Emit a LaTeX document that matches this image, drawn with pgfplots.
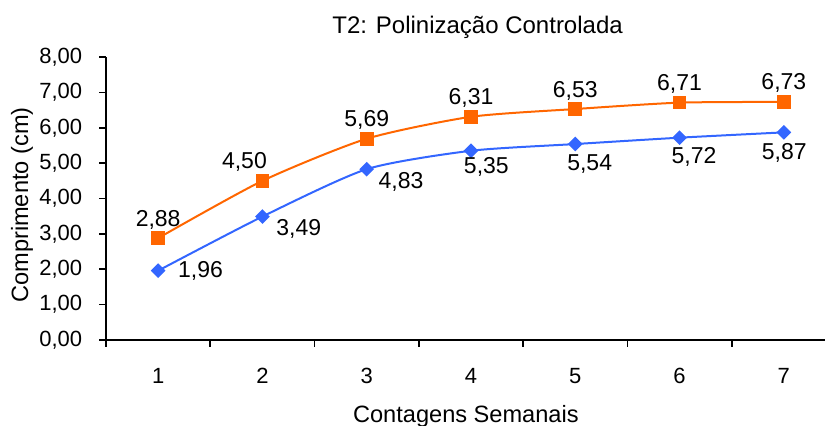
\documentclass[border=0pt]{standalone}
\usepackage{pgfplots}
\pgfplotsset{compat=1.18}
\usepackage{fontspec}
\setmainfont{Liberation Sans}
\definecolor{myorange}{HTML}{FF6600}
\definecolor{myblue}{HTML}{3366FF}
\begin{document}
\begin{tikzpicture}
\begin{axis}[
  at={(0,0)}, anchor=south west,
  scale only axis, width=365pt, height=141.5pt,
  xmin=0.5, xmax=7.5, ymin=0, ymax=8,
  axis x line=bottom, axis y line=left,
  axis line style={line width=1pt, -},
  xtick={0.5,1.5,...,7.5},
  xticklabels={1,2,3,4,5,6,7,},
  xticklabel style={anchor=base, inner sep=0pt, xshift=26.07pt, yshift=-18.5pt, font=\fontsize{11}{13}\selectfont},
  ytick={0,1,...,8},
  yticklabel style={anchor=east, inner sep=0pt, xshift=-8.5pt, font=\fontsize{11}{13}\selectfont},
  tick align=outside,
  major tick length=3.25pt,
  tick style={black, line width=0.8pt},
  /pgf/number format/fixed,
  /pgf/number format/fixed zerofill,
  /pgf/number format/precision=2,
  /pgf/number format/use comma,
  /pgf/number format/assume math mode=true,
  title={T2: Polinização Controlada},
  title style={at={(axis description cs:0.509,1.039)}, anchor=base, inner sep=0pt, font=\fontsize{12}{14}\selectfont},
  xlabel={Contagens Semanais},
  xlabel style={at={(axis description cs:0.493,-0.2898)}, anchor=base, inner sep=0pt, font=\fontsize{11.8}{14}\selectfont},
  ylabel={Comprimento (cm)},
  ylabel style={at={(axis description cs:-0.1068,0.477)}, anchor=base, inner sep=0pt, font=\fontsize{11.8}{14}\selectfont},
  clip=false,
]
\addplot[color=myblue, line width=1pt, smooth, tension=0.4,
  mark=square*, mark size=2.1pt, mark options={rotate=45, solid, fill=myblue},
  nodes near coords,
  nodes near coords style={anchor=base west, inner sep=0pt, text=black, font=\fontsize{11.5}{13}\selectfont},
  coordinate style/.condition={\coordindex==0}{xshift=9.5pt,yshift=-3.5pt},
  coordinate style/.condition={\coordindex==1}{xshift=6.5pt,yshift=-9.5pt},
  coordinate style/.condition={\coordindex==2}{xshift=5.5pt,yshift=-9.5pt},
  coordinate style/.condition={\coordindex==3}{xshift=-4pt,yshift=-11.5pt},
  coordinate style/.condition={\coordindex==4}{xshift=-4.5pt,yshift=-13pt},
  coordinate style/.condition={\coordindex==5}{xshift=-4.5pt,yshift=-13pt},
  coordinate style/.condition={\coordindex==6}{xshift=-11.5pt,yshift=-13.5pt},
] coordinates {(1,1.96)(2,3.49)(3,4.83)(4,5.35)(5,5.54)(6,5.72)(7,5.87)};
\addplot[color=myorange, line width=1pt, smooth, tension=0.4,
  mark=square*, mark size=2.9pt, mark options={solid, fill=myorange},
  nodes near coords,
  nodes near coords style={anchor=base, inner sep=0pt, text=black, yshift=6pt, font=\fontsize{11.5}{13}\selectfont},
  coordinate style/.condition={\coordindex==1}{xshift=-9pt},
] coordinates {(1,2.88)(2,4.50)(3,5.69)(4,6.31)(5,6.53)(6,6.71)(7,6.73)};
\end{axis}
\pgfresetboundingbox
\useasboundingbox (-53pt,-42.5pt) rectangle (359.5pt,170pt);
\end{tikzpicture}
\end{document}
